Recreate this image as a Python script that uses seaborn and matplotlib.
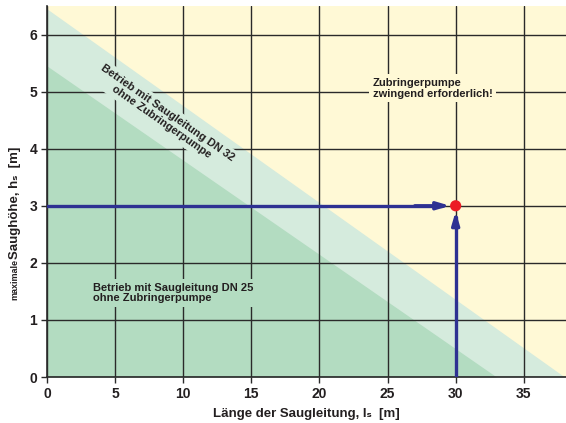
import matplotlib
matplotlib.use("Agg")
import matplotlib.pyplot as plt
import numpy as np
import pandas as pd
import seaborn as sns

# Grenzlinien der Bereiche (Länge in m, Saughöhe in m)
dn32_x = [0, 38]
dn32_h = [6.45, 0]
dn25_x = [0, 33]
dn25_h = [5.45, 0]

# Beispielpunkt
punkt_l = [30]
punkt_h = [3]

x_ticks = [0, 5, 10, 15, 20, 25, 30, 35]
y_ticks = [0, 1, 2, 3, 4, 5, 6]

gelb = "#fff9d6"
hellgruen = "#d5ebdd"
gruen = "#b3dcc1"
blau = "#2e3192"
rot = "#ec1c24"
textfarbe = "#231f20"

sns.set_style("white")
plt.rcParams["font.family"] = ["Liberation Sans", "DejaVu Sans"]

fig = plt.figure(figsize=(5.66, 4.23), dpi=100)
ax = fig.add_axes([47 / 566, 46 / 423, 519 / 566, 371 / 423])
ax.set_facecolor(gelb)

ax.fill_between(dn32_x, dn32_h, 0, color=hellgruen, lw=0, zorder=1)
ax.fill_between(dn25_x, dn25_h, 0, color=gruen, lw=0, zorder=1)

# Ablese-Pfeile
df_h = pd.DataFrame({"l": [0, punkt_l[0] - 1.0], "h": [punkt_h[0], punkt_h[0]]})
df_v = pd.DataFrame({"l": [punkt_l[0], punkt_l[0]], "h": [0, punkt_h[0] - 0.2]})
sns.lineplot(data=df_h, x="l", y="h", ax=ax, color=blau, lw=2.4, zorder=5,
             estimator=None, sort=False)
sns.lineplot(data=df_v, x="l", y="h", ax=ax, color=blau, lw=2.4, zorder=5,
             estimator=None, sort=False)
pfeil = dict(arrowstyle="-|>,head_length=0.75,head_width=0.22", color=blau, lw=2.4,
             shrinkA=0, shrinkB=4)
ax.annotate("", xy=(punkt_l[0], punkt_h[0]), xytext=(punkt_l[0] - 3, punkt_h[0]),
            arrowprops=pfeil, zorder=6)
ax.annotate("", xy=(punkt_l[0], punkt_h[0]), xytext=(punkt_l[0], punkt_h[0] - 0.35),
            arrowprops=pfeil, zorder=6)
sns.scatterplot(x=punkt_l, y=punkt_h, ax=ax, color=rot, s=65, edgecolor="none",
                zorder=7, clip_on=False)
ax.set_xlabel("")
ax.set_ylabel("")

ax.set_xlim(0, 38.1)
ax.set_ylim(0, 6.5)
ax.set_xticks(x_ticks)
ax.set_yticks(y_ticks)
ax.grid(True, color="#2a2a2a", lw=1.0, zorder=2)
ax.set_axisbelow(False)
for s in ["top", "right"]:
    ax.spines[s].set_visible(False)
for s in ["left", "bottom"]:
    ax.spines[s].set_color("#2a2a2a")
    ax.spines[s].set_linewidth(1.2)
ax.tick_params(direction="out", length=4, width=1, color="#2a2a2a", pad=3,
               left=True, bottom=True, labelsize=10, labelcolor=textfarbe)
for lab in ax.get_xticklabels() + ax.get_yticklabels():
    lab.set_fontweight("bold")

# Beschriftungen der Bereiche
kw = dict(fontsize=8, fontweight="bold", color=textfarbe, zorder=4, linespacing=1.1)
ax.text(23.9, 5.06, "Zubringerpumpe\nzwingend erforderlich!", ha="left", va="center",
        bbox=dict(facecolor=gelb, edgecolor="none", pad=2.5), **kw)
ax.text(3.4, 1.47, "Betrieb mit Saugleitung DN 25\nohne Zubringerpumpe", ha="left",
        va="center", bbox=dict(facecolor=gruen, edgecolor="none", pad=2.5), **kw)
ax.text(8.6, 4.55, "Betrieb mit Saugleitung DN 32\nohne Zubringerpumpe", ha="center",
        va="center", rotation=-35, rotation_mode="anchor",
        bbox=dict(facecolor=hellgruen, edgecolor="none", pad=2.5), **kw)

# Achsentitel
fig.text(306 / 566, 1 - 414 / 423, "Länge der Saugleitung, lₛ  [m]",
         ha="center", va="center", fontsize=9.5, fontweight="bold", color=textfarbe)
fig.text(15 / 566, 1 - 280 / 423, "maximale", rotation=90, ha="center", va="center",
         fontsize=6.5, fontweight="bold", color=textfarbe)
fig.text(15 / 566, 1 - 203 / 423, "Saughöhe, hₛ  [m]", rotation=90,
         ha="center", va="center", fontsize=9.5, fontweight="bold", color=textfarbe)

fig.savefig("out.png", dpi=100)
